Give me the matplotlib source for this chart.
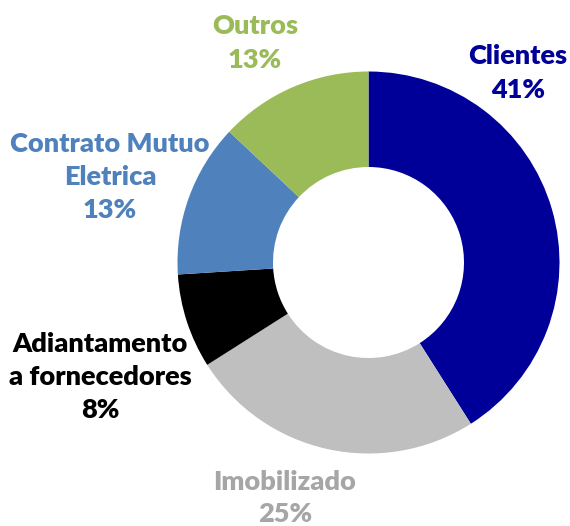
import matplotlib
matplotlib.use("Agg")
import matplotlib.pyplot as plt

# composition data
labels = ["Clientes", "Imobilizado", "Adiantamento\na fornecedores",
          "Contrato Mutuo\nEletrica", "Outros"]
values = [41, 25, 8, 13, 13]
colors = ["#000099", "#BFBFBF", "#000000", "#4F81BD", "#9BBB59"]
text_colors = ["#000099", "#A6A6A6", "#000000", "#4F81BD", "#9BBB59"]

# label anchor points (pixel coords, y from top)
label_pos = [(518, 73), (285, 498), (100, 377), (110, 177), (255, 43)]

W, H = 570, 526
fig = plt.figure(figsize=(W / 100, H / 100), dpi=100)
ax = fig.add_axes([0, 0, 1, 1])

ax.pie(values, colors=colors, startangle=90, counterclock=False,
       center=(368.5, H - 262.5), radius=191,
       wedgeprops=dict(width=95.5, linewidth=0), frame=True)
ax.set_xlim(0, W)
ax.set_ylim(0, H)
ax.axis("off")

for lab, v, c, (x, y) in zip(labels, values, text_colors, label_pos):
    ax.text(x, H - y, "{}\n{}%".format(lab, v), color=c,
            ha="center", va="center", fontsize=19.5, fontweight="heavy",
            family="Lato", linespacing=1.45)

fig.savefig("out.png", dpi=100)
